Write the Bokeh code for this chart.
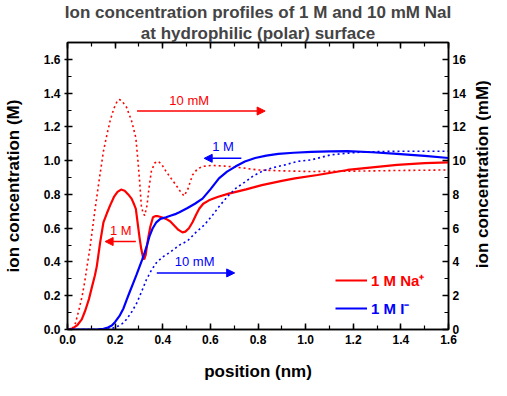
import math
from bokeh.plotting import figure
from bokeh.layouts import row
from bokeh.models import (Range1d, LinearAxis, SingleIntervalTicker, NumeralTickFormatter,
                          Title, Arrow, NormalHead, Label, Legend, LegendItem, CustomJSTickFormatter)
from bokeh.embed import file_html
from bokeh.resources import INLINE

# ---------------- data ----------------
na_1M_x = [0.0, 0.02, 0.04, 0.06, 0.075, 0.09, 0.103, 0.115, 0.123, 0.137, 0.151, 0.165, 0.179, 0.195,
           0.21, 0.225, 0.24, 0.255, 0.269, 0.28, 0.287, 0.296, 0.303, 0.31, 0.317, 0.322, 0.328, 0.338,
           0.348, 0.359, 0.37, 0.38, 0.395, 0.414, 0.432, 0.449, 0.466, 0.483, 0.495, 0.51, 0.525, 0.54,
           0.553, 0.57, 0.594, 0.63, 0.677, 0.75, 0.816, 0.9, 0.955, 1.05, 1.176, 1.28, 1.384, 1.5, 1.6]
na_1M_y = [0.0, 0.005, 0.024, 0.06, 0.114, 0.18, 0.254, 0.32, 0.374, 0.515, 0.635, 0.687, 0.735, 0.785,
           0.815, 0.829, 0.822, 0.80, 0.775, 0.74, 0.715, 0.615, 0.54, 0.475, 0.43, 0.415, 0.44, 0.535,
           0.61, 0.665, 0.672, 0.671, 0.665, 0.655, 0.64, 0.615, 0.59, 0.575, 0.58, 0.60, 0.635, 0.68,
           0.715, 0.745, 0.765, 0.785, 0.805, 0.83, 0.855, 0.88, 0.895, 0.915, 0.945, 0.96, 0.975, 0.985, 0.99]

na_10mM_x = [0.0, 0.02, 0.033, 0.047, 0.061, 0.072, 0.082, 0.093, 0.103, 0.116, 0.134, 0.151, 0.165,
             0.179, 0.195, 0.208, 0.217, 0.228, 0.248, 0.269, 0.287, 0.296, 0.303, 0.31, 0.317, 0.324,
             0.334, 0.342, 0.352, 0.366, 0.38, 0.395, 0.414, 0.435, 0.456, 0.475, 0.49, 0.505, 0.525,
             0.545, 0.567, 0.608, 0.66, 0.719, 0.8, 0.9, 1.01, 1.2, 1.4, 1.6]
na_10mM_y = [0.0, 0.05, 0.36, 1.1, 1.94, 2.8, 3.74, 4.7, 5.75, 7.15, 8.95, 10.56, 11.5,
             12.36, 13.1, 13.5, 13.62, 13.55, 13.16, 12.36, 11.36, 9.96, 8.76, 7.35, 6.9, 6.75,
             7.35, 8.35, 9.36, 9.86, 9.96, 9.8, 9.36, 8.95, 8.55, 8.15, 7.91, 8.3, 9.15,
             9.5, 9.66, 9.72, 9.68, 9.6, 9.45, 9.4, 9.36, 9.38, 9.42, 9.45]

i_1M_x = [0.0, 0.1, 0.13, 0.151, 0.17, 0.186, 0.2, 0.22, 0.235, 0.248, 0.262, 0.276, 0.29, 0.303,
          0.314, 0.324, 0.335, 0.345, 0.358, 0.373, 0.39, 0.414, 0.435, 0.456, 0.47, 0.504, 0.535,
          0.567, 0.6, 0.636, 0.67, 0.705, 0.745, 0.788, 0.835, 0.885, 0.95, 1.024, 1.1, 1.176, 1.28,
          1.384, 1.5, 1.6]
i_1M_y = [0.0, 0.0, 0.001, 0.004, 0.012, 0.024, 0.045, 0.084, 0.125, 0.174, 0.225, 0.275, 0.325, 0.374,
          0.415, 0.455, 0.505, 0.555, 0.6, 0.635, 0.655, 0.665, 0.675, 0.685, 0.695, 0.72, 0.745,
          0.775, 0.83, 0.895, 0.935, 0.965, 0.995, 1.016, 1.03, 1.04, 1.047, 1.052, 1.055, 1.056, 1.05,
          1.04, 1.028, 1.016]

i_10mM_x = [0.0, 0.15, 0.17, 0.19, 0.213, 0.23, 0.248, 0.27, 0.29, 0.31, 0.331, 0.352, 0.373, 0.4,
            0.428, 0.47, 0.504, 0.539, 0.575, 0.608, 0.64, 0.677, 0.71, 0.747, 0.78, 0.816, 0.86,
            0.913, 0.968, 1.024, 1.107, 1.18, 1.245, 1.35, 1.45, 1.6]
i_10mM_y = [0.0, 0.0, 0.02, 0.08, 0.2, 0.35, 0.6, 1.05, 1.54, 2.2, 2.94, 3.5, 3.95, 4.3,
            4.55, 5.0, 5.25, 5.75, 6.2, 6.75, 7.35, 7.95, 8.4, 8.75, 9.1, 9.36, 9.58,
            9.75, 9.96, 10.05, 10.35, 10.45, 10.52, 10.55, 10.56, 10.56]

title_line1 = "Ion concentration profiles of 1 M and 10 mM NaI"
title_line2 = "at hydrophilic (polar) surface"
right_axis_title = "ion concentration (mM)"

RED = "#ff0000"
BLUE = "#0000ff"
FONT = "Liberation Sans"
H = 388

p = figure(width=468, height=H, output_backend="svg", toolbar_location=None,
           x_range=Range1d(0, 1.6), y_range=Range1d(0, 1.7),
           min_border_left=59, min_border_right=12, min_border_top=38, min_border_bottom=59)
p.extra_y_ranges = {"mM": Range1d(0, 17)}
p.xgrid.visible = False
p.ygrid.visible = False
p.outline_line_color = "black"
p.outline_line_width = 1.5
p.background_fill_color = "white"

def style_axis(ax):
    ax.axis_line_width = 1.5
    ax.axis_line_color = "black"
    ax.major_tick_line_width = 1.5
    ax.minor_tick_line_width = 1.2
    ax.major_label_text_font = FONT
    ax.major_label_text_font_style = "bold"
    ax.major_label_text_font_size = "12px"
    ax.major_label_text_color = "black"
    ax.axis_label_text_font = FONT
    ax.axis_label_text_font_style = "bold"
    ax.axis_label_text_font_size = "17px"
    ax.axis_label_text_color = "black"

xa = p.xaxis[0]
xa.ticker = SingleIntervalTicker(interval=0.2, num_minor_ticks=2)
xa.formatter = NumeralTickFormatter(format="0.0")
style_axis(xa)
xa.axis_label = "position (nm)"
xa.major_tick_in = 6
xa.major_tick_out = 0
xa.minor_tick_in = 4
xa.minor_tick_out = 0
xa.major_label_standoff = 5
xa.axis_label_standoff = 15

ya = p.yaxis[0]
ya.ticker = SingleIntervalTicker(interval=0.2, num_minor_ticks=2)
ya.formatter = NumeralTickFormatter(format="0.0")
style_axis(ya)
ya.axis_label = "ion concentration (M)"
ya.major_tick_in = 5
ya.major_tick_out = 3
ya.minor_tick_in = 4
ya.minor_tick_out = 0
ya.major_label_standoff = 4
ya.axis_label_standoff = 18

ra = LinearAxis(y_range_name="mM", ticker=SingleIntervalTicker(interval=2, num_minor_ticks=2))
style_axis(ra)
ra.major_tick_in = 6
ra.major_tick_out = 0
ra.minor_tick_in = 4
ra.minor_tick_out = 0
ra.major_label_standoff = 4
p.add_layout(ra, "right")

ta = LinearAxis(ticker=SingleIntervalTicker(interval=0.2, num_minor_ticks=2),
                formatter=CustomJSTickFormatter(code="return ''"))
style_axis(ta)
ta.major_tick_in = 6
ta.major_tick_out = 0
ta.minor_tick_in = 4
ta.minor_tick_out = 0
ta.major_label_standoff = 0
p.add_layout(ta, "above")

# titles (added title sits closer to the plot)
p.title.text = title_line1
p.title.align = "center"
p.title.text_font = FONT
p.title.text_font_size = "17px"
p.title.text_font_style = "bold"
p.title.standoff = 0
p.title.offset = 0
t2 = Title(text=title_line2, align="center", text_font=FONT, text_font_size="17px",
           text_font_style="bold", standoff=0)
p.add_layout(t2, "above")

# curves
r_na = p.line(na_1M_x, na_1M_y, line_color=RED, line_width=2.2)
p.line(na_10mM_x, na_10mM_y, y_range_name="mM", line_color=RED, line_width=1.6, line_dash="2 3")
r_i = p.line(i_1M_x, i_1M_y, line_color=BLUE, line_width=2.2)
p.line(i_10mM_x, i_10mM_y, y_range_name="mM", line_color=BLUE, line_width=1.6, line_dash="2 3")

def arrow(x0, x1, y, c):
    p.add_layout(Arrow(end=NormalHead(size=8, line_color=c, fill_color=c, line_width=1),
                       x_start=x0, y_start=y, x_end=x1, y_end=y, line_color=c, line_width=1.6))

def label(x, y, t, c):
    p.add_layout(Label(x=x, y=y, text=t, text_color=c, text_font=FONT, text_font_size="13px",
                       text_align="center", text_baseline="middle"))

label(0.511, 1.356, "10 mM", RED)
arrow(0.292, 0.83, 1.294, RED)
label(0.653, 1.082, "1 M", BLUE)
arrow(0.73, 0.574, 1.014, BLUE)
label(0.224, 0.587, "1 M", RED)
arrow(0.287, 0.158, 0.521, RED)
label(0.534, 0.403, "10 mM", BLUE)
arrow(0.375, 0.702, 0.335, BLUE)

for rend, txt, col, loc in [(r_na, "1 M Na\u207a", RED, (268, 39)), (r_i, "1 M I\u207b", BLUE, (268, 11))]:
    lg = Legend(items=[LegendItem(label=txt, renderers=[rend])], location=loc,
                padding=0, margin=0, spacing=0, glyph_width=32, glyph_height=16, label_height=16,
                label_standoff=4, border_line_alpha=0, background_fill_alpha=0,
                label_text_color=col, label_text_font=FONT, label_text_font_style="bold",
                label_text_font_size="15px")
    p.add_layout(lg, "center")

# narrow strip on the right carrying the right-axis title (reads bottom-to-top)
q = figure(width=23, height=H, output_backend="svg", toolbar_location=None,
           x_range=Range1d(0, 1), y_range=Range1d(0, 1), x_axis_type=None, y_axis_type=None,
           min_border=0)
q.outline_line_color = None
q.xgrid.visible = False
q.ygrid.visible = False
q.add_layout(Label(x=0.62, y=0.541, text=right_axis_title, angle=math.pi / 2,
                   text_align="center", text_baseline="middle", text_font=FONT,
                   text_font_style="bold", text_font_size="17px", text_color="black"))

layout = row(p, q, spacing=0)
open("out.html", "w").write(file_html(layout, INLINE))
